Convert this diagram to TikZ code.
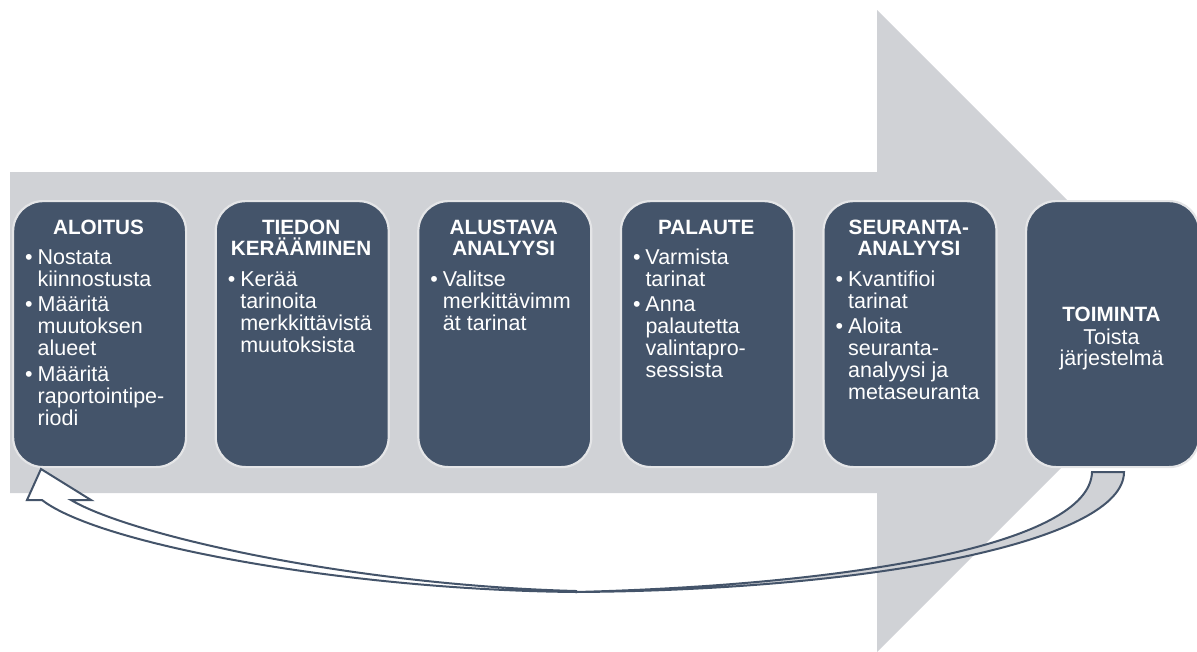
\documentclass[tikz,border=0pt]{standalone}
\usepackage{fontspec}
\setmainfont{Liberation Sans}

\definecolor{slate}{HTML}{44546A}
\definecolor{arrowgray}{HTML}{D0D2D6}
\definecolor{rim}{HTML}{E4E5E7}

% title block: bold, centred, first baseline at the node's base
\newcommand{\stagetitle}[1]{\parbox[t]{180pt}{\centering\bfseries\fontsize{20.7}{21}\selectfont #1}}
% body block: left aligned bullet list with hand-set line breaks
\newcommand{\stagebody}[1]{\parbox[t]{165pt}{\raggedright\fontsize{21.5}{22}\selectfont #1}}
% centred plain text block
\newcommand{\stageplain}[1]{\parbox[t]{180pt}{\centering\fontsize{21.5}{21.5}\selectfont #1}}
\newcommand{\bul}{\makebox[12.5pt][l]{\textbullet}}
\newcommand{\cont}{\hspace*{12.5pt}}

\begin{document}
\begin{tikzpicture}[x=1pt,y=-1pt,
  stage/.style={draw=rim, line width=2.2pt, fill=slate, rounded corners=30pt,
    minimum width=173pt, minimum height=266pt, inner sep=0pt, anchor=north west},
  txt/.style={inner sep=0pt, text=white},
  loopline/.style={draw=slate, line width=2pt, line join=miter}]

\useasboundingbox (0,0) rectangle (1197,651);

% large process arrow in the background
\fill[arrowgray] (10,172) -- (877,172) -- (877,10) -- (1198,331)
  -- (877,652) -- (877,493) -- (10,493) -- cycle;

% the six stages
\node[stage] (b1) at (12,200) {};
\node[stage] (b2) at (214.6,200) {};
\node[stage] (b3) at (417.2,200) {};
\node[stage] (b4) at (619.8,200) {};
\node[stage] (b5) at (822.4,200) {};
\node[stage] (b6) at (1025,200) {};

% stage titles
\node[txt, anchor=base] (t1) at (98.5,234) {\stagetitle{ALOITUS}};
\node[txt, anchor=base] (t2) at (301.1,234) {\stagetitle{TIEDON\\KERÄÄMINEN}};
\node[txt, anchor=base] (t3) at (503.7,234) {\stagetitle{ALUSTAVA\\ANALYYSI}};
\node[txt, anchor=base] (t4) at (706.3,234) {\stagetitle{PALAUTE}};
\node[txt, anchor=base] (t5) at (908.9,234) {\stagetitle{SEURANTA-\\ANALYYSI}};
\node[txt, anchor=base] (t6) at (1111.5,321) {\stagetitle{TOIMINTA}};

% stage contents
\node[txt, anchor=base west] (c1) at (25,264) {\stagebody{%
  \bul Nostata\\ \cont kiinnostusta\\[3.5pt]
  \bul Määritä\\ \cont muutoksen\\ \cont alueet\\[3.5pt]
  \bul Määritä\\ \cont raportointipe-\\ \cont riodi}};
\node[txt, anchor=base west] (c2) at (227.6,286) {\stagebody{%
  \bul Kerää\\ \cont tarinoita\\ \cont merkkittävistä\\ \cont muutoksista}};
\node[txt, anchor=base west] (c3) at (430.2,286) {\stagebody{%
  \bul Valitse\\ \cont merkittävimm\\ \cont ät tarinat}};
\node[txt, anchor=base west] (c4) at (632.8,264) {\stagebody{%
  \bul Varmista\\ \cont tarinat\\[3.5pt]
  \bul Anna\\ \cont palautetta\\ \cont valintapro-\\ \cont sessista}};
\node[txt, anchor=base west] (c5) at (835.4,286) {\stagebody{%
  \bul Kvantifioi\\ \cont tarinat\\[3.5pt]
  \bul Aloita\\ \cont seuranta-\\ \cont analyysi ja\\ \cont metaseuranta}};
\node[txt, anchor=base] (c6) at (1111.5,344) {\stageplain{Toista\\järjestelmä}};

% return loop: far side of the ribbon (shaded)
\path[loopline, fill=arrowgray]
  (1092,472) -- (1124,472)
  .. controls (1124,540) and (880,590) .. (576,592)
  .. controls (850,585) and (1090,545) .. (1092,472) -- cycle;

% return loop: near side of the ribbon with its head
\path[loopline, fill=white]
  (576,591) .. controls (350,585) and (130,535) .. (71,500)
  -- (91,500) -- (41,469) -- (27,500) -- (42,500)
  .. controls (100,545) and (350,590) .. (576,592) -- cycle;

\end{tikzpicture}
\end{document}
